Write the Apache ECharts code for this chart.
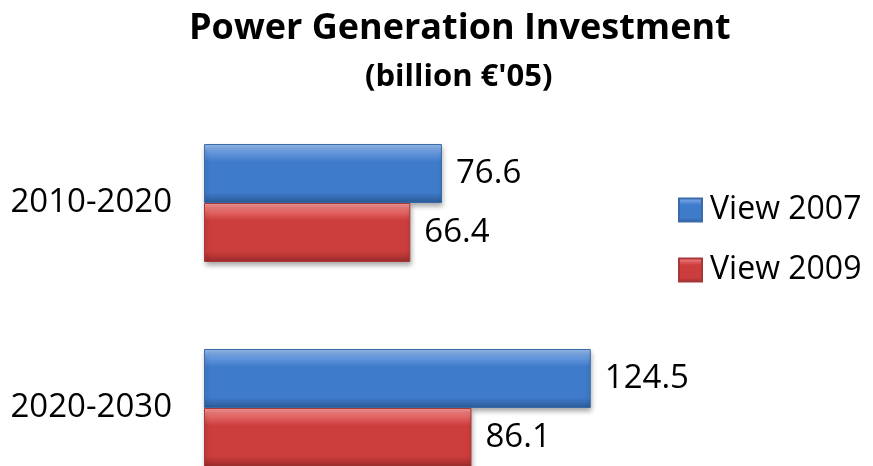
<!DOCTYPE html>
<html>
<head>
<meta charset="utf-8">
<script src="https://cdn.jsdelivr.net/npm/echarts@6/dist/echarts.min.js"></script>
<style>html,body{margin:0;padding:0;background:#fff;}#c{width:873px;height:466px;}</style>
</head>
<body>
<div id="c"></div>
<script>
var categories = ['2010-2020', '2020-2030'];
var seriesNames = ['View 2007', 'View 2009'];
var view2007 = [76.6, 124.5];
var view2009 = [66.4, 86.1];

function grad(top, mid, bottom, edge) {
  return new echarts.graphic.LinearGradient(0, 0, 0, 1, [
    {offset: 0, color: edge},
    {offset: 0.12, color: top},
    {offset: 0.3, color: mid},
    {offset: 0.82, color: mid},
    {offset: 1, color: bottom}
  ]);
}
var blueFill = grad('#6d9de0', '#3f7bcb', '#2b5b98', '#9cc0ee');
var redFill = grad('#e86d6d', '#cc3d3d', '#9a2b2b', '#f49a9a');
var font = '"Open Sans", "Liberation Sans", sans-serif';

var chart = echarts.init(document.getElementById('c'), null, {renderer: 'canvas'});
chart.setOption({
  animation: false,
  backgroundColor: '#ffffff',
  title: [{
    text: 'Power Generation Investment',
    left: 184, top: 6,
    textStyle: {fontFamily: font, fontWeight: 'bold', fontSize: 36, color: '#000'}
  }, {
    text: "(billion €'05)",
    left: 360, top: 57,
    textStyle: {fontFamily: font, fontWeight: 'bold', fontSize: 31, color: '#000'}
  }],
  legend: {
    orient: 'vertical',
    left: 673, top: 186,
    itemWidth: 23, itemHeight: 23,
    itemGap: 22,
    icon: 'rect',
    data: [
      {name: seriesNames[0], itemStyle: {color: blueFill}},
      {name: seriesNames[1], itemStyle: {color: redFill}}
    ],
    textStyle: {fontFamily: font, fontSize: 32, color: '#000', lineHeight: 38, padding: [0, 0, 0, 3]}
  },
  grid: {left: 204, top: 203, width: 466, height: 205, containLabel: false},
  xAxis: {
    type: 'value', min: 0, max: 150, show: false
  },
  yAxis: {
    type: 'category', data: categories, inverse: true, boundaryGap: false,
    axisLine: {show: false}, axisTick: {show: false}, splitLine: {show: false},
    axisLabel: {fontFamily: font, fontSize: 33, color: '#000', margin: 32}
  },
  series: [{
    name: seriesNames[0], type: 'bar', data: view2007,
    barWidth: 59, barGap: '0%',
    itemStyle: {color: blueFill, borderColor: '#3a6aa8', borderWidth: 1,
      shadowColor: 'rgba(0,0,0,0.35)', shadowBlur: 5, shadowOffsetY: 3, shadowOffsetX: 1},
    label: {show: true, position: 'right', distance: 14, fontFamily: font, fontSize: 33, color: '#000',
      formatter: function (p) { return p.value.toFixed(1); }}
  }, {
    name: seriesNames[1], type: 'bar', data: view2009,
    barWidth: 59, barGap: '0%',
    itemStyle: {color: redFill, borderColor: '#a83838', borderWidth: 1,
      shadowColor: 'rgba(0,0,0,0.35)', shadowBlur: 5, shadowOffsetY: 3, shadowOffsetX: 1},
    label: {show: true, position: 'right', distance: 14, fontFamily: font, fontSize: 33, color: '#000',
      formatter: function (p) { return p.value.toFixed(1); }}
  }]
});
</script>
</body>
</html>
